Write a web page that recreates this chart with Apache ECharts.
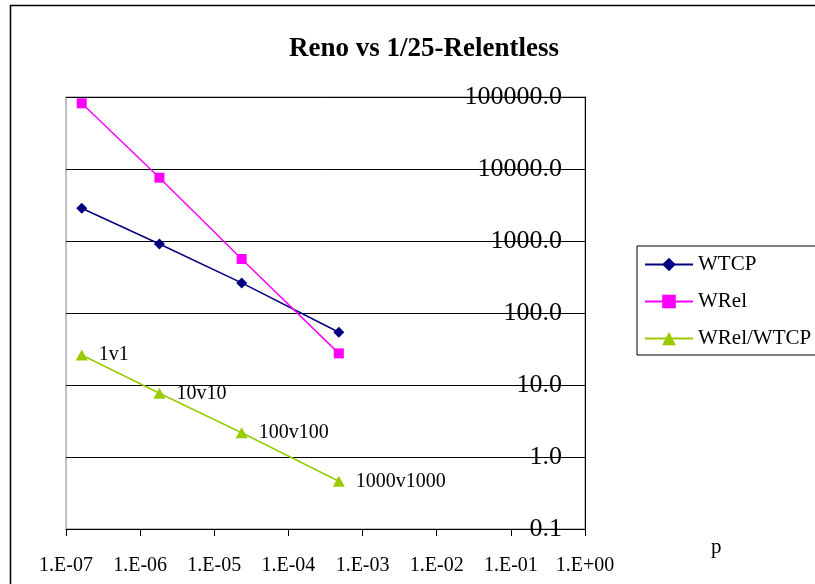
<!DOCTYPE html>
<html>
<head>
<meta charset="utf-8">
<script src="https://cdn.jsdelivr.net/npm/echarts@6/dist/echarts.min.js"></script>
<style>
html,body{margin:0;padding:0;background:#fff;}
#chart{width:815px;height:584px;}
</style>
</head>
<body>
<div id="chart"></div>
<script>
const pValues = [1.63e-7, 1.82e-6, 2.34e-5, 4.78e-4];
const wtcp = [2850, 910, 262, 54];
const wrel = [81800, 7570, 562, 27.5];
const ratio = [26.1, 7.67, 2.17, 0.46];
const ratioLabels = ['1v1', '10v10', '100v100', '1000v1000'];
const seriesNames = ['WTCP', 'WRel', 'WRel/WTCP'];
const titleText = 'Reno vs 1/25-Relentless';
const xName = 'p';

const FONT = 'Liberation Serif, Times New Roman, serif';

function pairs(ys) { return pValues.map((p, i) => [p, ys[i]]); }
function xFmt(v) {
  const e = Math.round(Math.log10(v));
  return '1.E' + (e < 0 ? '-' : '+') + String(Math.abs(e)).padStart(2, '0');
}

const chart = echarts.init(document.getElementById('chart'), null, {renderer: 'canvas'});
chart.setOption({
  backgroundColor: '#fff',
  animation: false,
  title: {
    text: titleText,
    left: 419, top: 31, textAlign: 'center',
    textStyle: {fontFamily: FONT, fontWeight: 'bold', fontSize: 27, color: '#000'}
  },
  graphic: [{
    type: 'rect', silent: true, z: -1,
    shape: {x: 10.5, y: 5.5, width: 1000, height: 1000},
    style: {fill: 'none', stroke: '#000', lineWidth: 1.5}
  }],
  legend: {
    orient: 'vertical', left: 637, top: 246,
    borderColor: '#000', borderWidth: 1,
    padding: [8, 12, 6, 7],
    itemWidth: 48, itemHeight: 17, itemGap: 16,
    textStyle: {fontFamily: FONT, fontSize: 21, color: '#000'},
    data: seriesNames
  },
  grid: {left: 66, top: 97, right: 230, bottom: 55, show: true, borderColor: '#808080', borderWidth: 1, containLabel: false, outerBoundsMode: 'none'},
  xAxis: {
    type: 'log', logBase: 10, min: 1e-7, max: 1,
    name: xName, nameLocation: 'end', nameGap: 126,
    nameTextStyle: {fontFamily: FONT, fontSize: 21, color: '#000', verticalAlign: 'top', padding: [8, 0, 0, 0]},
    axisLine: {show: true, lineStyle: {color: '#000', width: 1}},
    axisTick: {show: true, inside: false, length: 7, lineStyle: {color: '#000'}},
    axisLabel: {fontFamily: FONT, fontSize: 20, color: '#000', margin: 27, formatter: xFmt},
    splitLine: {show: false},
    minorTick: {show: false}
  },
  yAxis: {
    type: 'log', logBase: 10, min: 0.1, max: 100000, position: 'right',
    axisLine: {show: true, lineStyle: {color: '#000', width: 1}},
    axisTick: {show: true, inside: true, length: 9, lineStyle: {color: '#000'}},
    axisLabel: {inside: true, fontFamily: FONT, fontSize: 26, color: '#000', margin: 23,
      padding: [5, 0, 0, 0],
      formatter: v => Number(v).toFixed(1)},
    splitLine: {show: true, lineStyle: {color: '#000', width: 1}}
  },
  series: [
    {
      name: seriesNames[0], type: 'line', data: pairs(wtcp),
      symbol: 'diamond', symbolSize: [11, 11],
      lineStyle: {color: '#000080', width: 1.5},
      itemStyle: {color: '#000080'}
    },
    {
      name: seriesNames[1], type: 'line', data: pairs(wrel),
      symbol: 'rect', symbolSize: [10, 10],
      lineStyle: {color: '#FF00FF', width: 1.5},
      itemStyle: {color: '#FF00FF'}
    },
    {
      name: seriesNames[2], type: 'line', data: pairs(ratio),
      symbol: 'triangle', symbolSize: [12, 11],
      lineStyle: {color: '#99CC00', width: 1.5},
      itemStyle: {color: '#99CC00'},
      label: {
        show: true, position: 'right', distance: 11,
        fontFamily: FONT, fontSize: 20, color: '#000',
        formatter: p => ratioLabels[p.dataIndex]
      }
    }
  ]
});
</script>
</body>
</html>
